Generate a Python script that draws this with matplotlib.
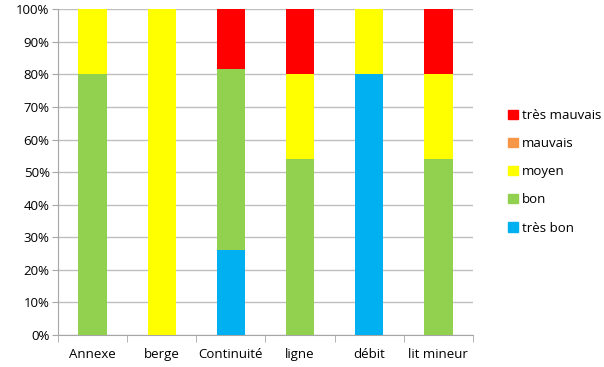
import matplotlib.pyplot as plt
import numpy as np
from matplotlib.patches import Patch

categories = ["Annexe", "berge", "Continuité", "ligne", "débit", "lit mineur"]
series_names = ["très bon", "bon", "moyen", "mauvais", "très mauvais"]
tres_bon = [0, 0, 26, 0, 80, 0]
bon = [80, 0, 55.5, 54, 0, 54]
moyen = [20, 100, 0, 26, 20, 26]
mauvais = [0, 0, 0, 0, 0, 0]
tres_mauvais = [0, 0, 18.5, 20, 0, 20]

colors = ["#00B0F0", "#92D050", "#FFFF00", "#F79646", "#FF0000"]


def main() -> None:
    plt.rcParams["font.family"] = ["Open Sans", "DejaVu Sans"]
    fig = plt.figure(figsize=(6.04, 3.67), dpi=100)
    ax = fig.add_axes([0.096, 0.087, 0.687, 0.888])

    x = np.arange(len(categories))
    bottom = np.zeros(len(categories))
    for name, vals, col in zip(series_names,
                               [tres_bon, bon, moyen, mauvais, tres_mauvais],
                               colors):
        vals = np.array(vals, dtype=float)
        ax.bar(x, vals, bottom=bottom, width=0.41, color=col, label=name,
               zorder=3)
        bottom += vals

    ax.set_xlim(-0.5, len(categories) - 0.5)
    ax.set_ylim(0, 100)
    ax.set_yticks(np.arange(0, 101, 10))
    ax.set_yticklabels([f"{v}%" for v in range(0, 101, 10)], fontsize=9.5)
    ax.set_xticks(x)
    ax.set_xticklabels(categories, fontsize=9.5)
    ax.tick_params(axis="x", length=0, pad=9)
    ax.set_xticks(np.arange(-0.5, len(categories), 1), minor=True)
    ax.tick_params(axis="x", which="minor", length=5, color="#A6A6A6")
    ax.tick_params(axis="y", length=4, color="#A6A6A6", pad=2)

    ax.grid(axis="y", color="#BFBFBF", linewidth=1, zorder=0)
    for side in ["top", "right"]:
        ax.spines[side].set_visible(False)
    for side in ["left", "bottom"]:
        ax.spines[side].set_color("#A6A6A6")

    handles = [Patch(color=c, label=n) for n, c in zip(series_names, colors)][::-1]
    fig.legend(handles=handles, loc="center left", bbox_to_anchor=(0.822, 0.532),
               frameon=False, fontsize=9.5, handlelength=0.7, handleheight=0.7,
               handletextpad=0.3, labelspacing=1.15)

    fig.savefig("out.png", dpi=100)


if __name__ == "__main__":
    main()
